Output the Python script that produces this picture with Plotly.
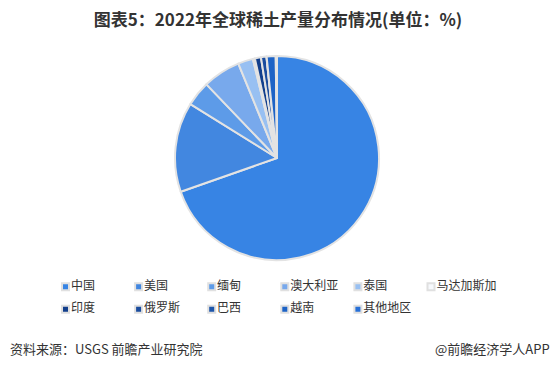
import plotly.graph_objects as go

labels = ["中国", "美国", "缅甸", "澳大利亚", "泰国", "马达加斯加",
          "印度", "俄罗斯", "巴西", "越南", "其他地区"]
values = [70.0, 14.3, 4.0, 6.0, 2.4, 0.32, 0.97, 0.87, 0.03, 1.43, 0.2]
colors = ["#3784e4", "#4287e0", "#5d9be8", "#78a9ec", "#98c0f2", "#f7f9fc",
          "#123f8c", "#1a4c9e", "#1d56ab", "#1d63c6", "#2770d8"]

title_text = "图表5：2022年全球稀土产量分布情况(单位：%)"
source_text = "资料来源：USGS 前瞻产业研究院"
brand_text = "@前瞻经济学人APP"

W, H = 556, 368
font_family = "Noto Sans CJK SC"

cx, cy, r = 277, 158, 102

fig = go.Figure()
fig.add_trace(go.Pie(
    labels=labels,
    values=values,
    sort=False,
    direction="clockwise",
    rotation=0,
    textinfo="none",
    showlegend=False,
    marker=dict(colors=colors, line=dict(color="#e3e3e3", width=2)),
    domain=dict(x=[(cx - r) / W, (cx + r) / W], y=[1 - (cy + r) / H, 1 - (cy - r) / H]),
))

# legend laid out as a 6-column grid (positions computed from index)
ncol = 6
lx0, ldx = 65.5, 73.1
ly0, ldy = 286.7, 22.6
leg_x = [lx0 + (i % ncol) * ldx for i in range(len(labels))]
leg_y = [ly0 + (i // ncol) * ldy for i in range(len(labels))]

fig.add_trace(go.Scatter(
    x=leg_x, y=leg_y,
    mode="markers+text",
    text=labels,
    textposition="middle right",
    textfont=dict(size=12, color="#333333", family=font_family),
    marker=dict(symbol="square", size=7, color=colors,
                line=dict(color="#e0e0e0", width=2)),
    hoverinfo="skip",
    showlegend=False,
    cliponaxis=False,
))

fig.update_layout(
    width=W, height=H,
    margin=dict(l=0, r=0, t=0, b=0),
    paper_bgcolor="white",
    plot_bgcolor="white",
    font=dict(family=font_family, color="#333333"),
    xaxis=dict(range=[0, W], visible=False, fixedrange=True),
    yaxis=dict(range=[H, 0], visible=False, fixedrange=True),
    title=dict(
        text="<b>" + title_text + "</b>",
        x=0.5, xref="container", xanchor="center",
        y=1 - 20 / H, yref="container", yanchor="middle",
        font=dict(size=17, color="#333333", family=font_family),
    ),
    showlegend=False,
    annotations=[
        dict(text=source_text, xref="paper", yref="paper",
             x=8 / W, y=1 - 348 / H, xanchor="left", yanchor="middle",
             showarrow=False, font=dict(size=13, color="#333333", family=font_family)),
        dict(text=brand_text, xref="paper", yref="paper",
             x=552 / W, y=1 - 348 / H, xanchor="right", yanchor="middle",
             showarrow=False, font=dict(size=13, color="#333333", family=font_family)),
    ],
)

fig.write_html("out.html")
